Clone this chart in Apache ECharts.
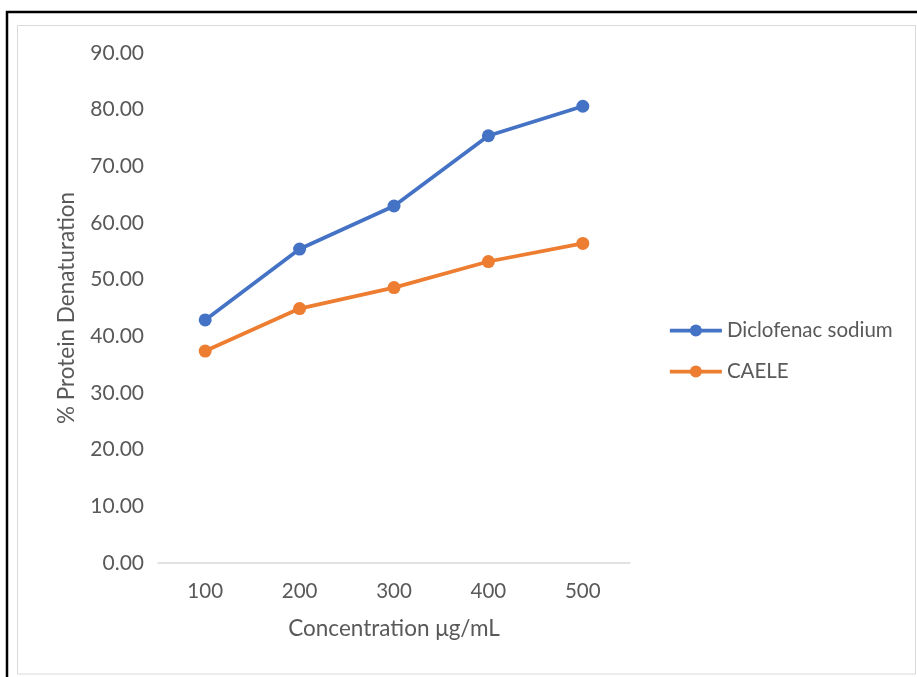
<!DOCTYPE html>
<html>
<head>
<meta charset="utf-8">
<script src="https://cdn.jsdelivr.net/npm/echarts@6/dist/echarts.min.js"></script>
<style>
html,body{margin:0;padding:0;background:#fff;}
#chart{width:917px;height:677px;}
</style>
</head>
<body>
<div id="chart"></div>
<script>
const categories = ['100', '200', '300', '400', '500'];
const diclofenac = [42.9, 55.4, 63.0, 75.4, 80.6];
const caele = [37.4, 44.9, 48.6, 53.2, 56.4];
const seriesNames = ['Diclofenac sodium', 'CAELE'];
const yTicks = { min: 0, max: 90, interval: 10 };

const FONT = 'Lato';
const TXT = '#595959';

const chart = echarts.init(document.getElementById('chart'), null, { renderer: 'canvas' });
chart.setOption({
  animation: false,
  backgroundColor: '#fff',
  graphic: [
    { type: 'rect', shape: { x: 17.5, y: 25.5, width: 898, height: 648.5 }, style: { fill: 'none', stroke: '#d9d9d9', lineWidth: 1 }, silent: true },
    { type: 'polyline', shape: { points: [[7, 677], [7, 12], [917, 12]] }, style: { fill: 'none', stroke: '#000', lineWidth: 2.5 }, silent: true }
  ],
  grid: { left: 158, right: 287, top: 53, bottom: 114, containLabel: false },
  legend: {
    orient: 'vertical',
    left: 663,
    top: 315,
    itemWidth: 52,
    itemHeight: 15,
    itemGap: 20,
    lineStyle: { width: 3.75 },
    textStyle: { color: TXT, fontFamily: FONT, fontSize: 20.5 },
    data: seriesNames
  },
  xAxis: {
    type: 'category',
    data: categories,
    boundaryGap: true,
    name: 'Concentration μg/mL',
    nameLocation: 'middle',
    nameGap: 54,
    nameTextStyle: { color: TXT, fontFamily: FONT, fontSize: 22.5 },
    axisLine: { show: true, lineStyle: { color: '#d9d9d9', width: 1.5 } },
    axisTick: { show: false },
    axisLabel: { color: TXT, fontFamily: FONT, fontSize: 20.5, margin: 18 },
    splitLine: { show: false }
  },
  yAxis: {
    type: 'value',
    min: yTicks.min,
    max: yTicks.max,
    interval: yTicks.interval,
    name: '% Protein Denaturation',
    nameLocation: 'middle',
    nameGap: 80,
    nameTextStyle: { color: TXT, fontFamily: FONT, fontSize: 22.5 },
    axisLine: { show: false },
    axisTick: { show: false },
    axisLabel: { color: TXT, fontFamily: FONT, fontSize: 21, margin: 14, formatter: v => v.toFixed(2) },
    splitLine: { show: false }
  },
  series: [
    {
      name: seriesNames[0], type: 'line', data: diclofenac,
      symbol: 'circle', symbolSize: 13,
      lineStyle: { color: '#4472C4', width: 3.75 },
      itemStyle: { color: '#4472C4' }
    },
    {
      name: seriesNames[1], type: 'line', data: caele,
      symbol: 'circle', symbolSize: 13,
      lineStyle: { color: '#ED7D31', width: 3.75 },
      itemStyle: { color: '#ED7D31' }
    }
  ]
});
</script>
</body>
</html>
